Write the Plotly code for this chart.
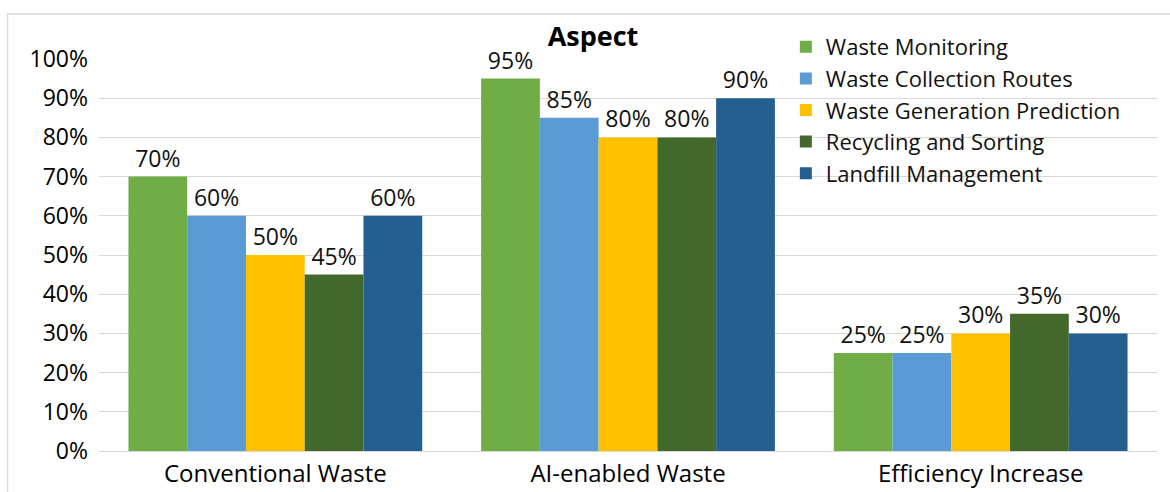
import plotly.graph_objects as go

categories = ["Conventional Waste", "AI-enabled Waste", "Efficiency Increase"]
series_names = ["Waste Monitoring", "Waste Collection Routes", "Waste Generation Prediction",
                "Recycling and Sorting", "Landfill Management"]
waste_monitoring = [70, 95, 25]
waste_collection_routes = [60, 85, 25]
waste_generation_prediction = [50, 80, 30]
recycling_and_sorting = [45, 80, 35]
landfill_management = [60, 90, 30]
y_ticks = list(range(0, 101, 10))
y_tick_labels = [f"{v}%" for v in y_ticks]

series_values = [waste_monitoring, waste_collection_routes, waste_generation_prediction,
                 recycling_and_sorting, landfill_management]
colors = ["#70AD47", "#5B9BD5", "#FFC000", "#43682B", "#255E91"]

FONT = "Open Sans"
W, H = 1170, 492
L, R, T, B = 98.5, 12.5, 59, 41
pw, ph = W - L - R, H - T - B

fig = go.Figure()
for i, (name, vals) in enumerate(zip(series_names, series_values)):
    fig.add_trace(go.Bar(
        x=categories, y=vals, name=name, legendgroup=name,
        marker=dict(color=colors[i], line=dict(width=0)),
        text=[f"{v}%" for v in vals], textposition="outside", cliponaxis=False,
        textfont=dict(family=FONT, size=23, color="#111111"),
    ))

def px_x(p):
    return (p - L) / pw

def px_y(p):
    return (H - B - p) / ph

fig.update_layout(
    width=W, height=H,
    margin=dict(l=L, r=R, t=T, b=B, autoexpand=False),
    paper_bgcolor="white", plot_bgcolor="white",
    barmode="group", bargap=0.167, bargroupgap=0,
    title=dict(text="<b>Aspect</b>", x=593 / W, xanchor="center",
               y=1 - 37 / H, yanchor="middle",
               font=dict(family=FONT, size=27, color="#000000")),
    font=dict(family=FONT, size=23, color="#000000"),
    legend=dict(x=px_x(786), xanchor="left", y=px_y(26), yanchor="top",
                bgcolor="rgba(0,0,0,0)", tracegroupgap=0,
                font=dict(family=FONT, size=22, color="#111111"),
                itemclick=False),
    xaxis=dict(showgrid=False, showline=False, ticks="", automargin=False,
               tickfont=dict(family=FONT, size=24, color="#000000"),
               ticklabelstandoff=6),
    yaxis=dict(range=[0, 100], tickvals=y_ticks, ticktext=y_tick_labels,
               showgrid=True, gridcolor="#D9D9D9", gridwidth=1.3,
               zeroline=True, zerolinecolor="#D9D9D9", zerolinewidth=1.3,
               showline=False, ticks="", automargin=False,
               tickfont=dict(family=FONT, size=23, color="#000000"),
               ticklabelstandoff=10),
    shapes=[dict(type="rect", xref="paper", yref="paper",
                 x0=px_x(7), x1=px_x(1200), y0=px_y(520), y1=px_y(14),
                 line=dict(color="#D9D9D9", width=1.3), fillcolor="rgba(0,0,0,0)",
                 layer="below")],
)

fig.write_html("out.html")
